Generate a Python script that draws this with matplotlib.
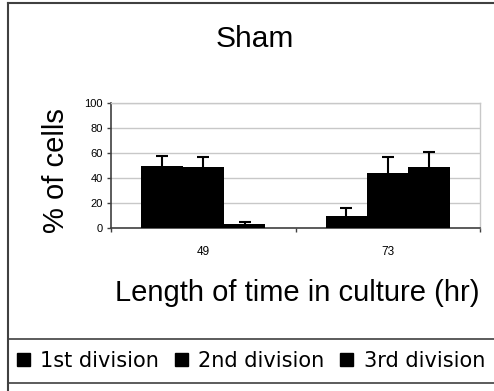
import numpy as np
import matplotlib
matplotlib.use("Agg")
import matplotlib.pyplot as plt
from matplotlib.patches import Patch
from matplotlib.lines import Line2D

# data
times = ['49', '73']
series = ['1st division', '2nd division', '3rd division']
values = [[50, 10], [49, 44], [3, 49]]
errors = [[8, 6], [7.5, 12.5], [1.5, 12]]

plt.rcParams['font.family'] = ['Liberation Sans', 'DejaVu Sans']

W, H = 494, 391
fig = plt.figure(figsize=(W / 100, H / 100), dpi=100)
ax = fig.add_axes([111 / W, 1 - 228 / H, 369 / W, 125 / H])

x = np.arange(len(times))
width = 0.224
for i, (vals, errs) in enumerate(zip(values, errors)):
    pos = x + (i - 1) * width
    ax.bar(pos, vals, width, color='black', zorder=3)
    eb = ax.errorbar(pos, vals, yerr=[np.zeros(len(errs)), errs], fmt='none',
                     ecolor='black', elinewidth=1.5, capsize=4.5, capthick=1.5,
                     zorder=3)
    # only the upper cap is drawn in the original
    eb[1][0].set_visible(False)

ax.set_xlim(-0.5, 1.5)
ax.set_ylim(0, 100)
ax.set_yticks(np.arange(0, 101, 20))
ax.tick_params(axis='y', labelsize=8, length=3, width=1, color='#404040', pad=3)
ax.set_xticks([-0.5, 0.5, 1.5])
ax.set_xticklabels([])
ax.set_xticks(x, minor=True)
ax.set_xticklabels(times, minor=True)
ax.tick_params(axis='x', which='major', length=3, width=1, color='#404040')
ax.tick_params(axis='x', which='minor', length=0, labelsize=8.5, pad=13)
ax.grid(axis='y', color='#c8c8c8', linewidth=1, zorder=0)
for s in ['left', 'bottom']:
    ax.spines[s].set_color('#404040')
    ax.spines[s].set_linewidth(1.2)
for s in ['top', 'right']:
    ax.spines[s].set_color('#c8c8c8')
    ax.spines[s].set_linewidth(1)

fig.text(255 / W, 1 - 47 / H, 'Sham', fontsize=21.5, ha='center', va='baseline')
fig.text(42 / W, 1 - 171 / H, '% of cells', fontsize=21, rotation=90,
         ha='left', va='center')
fig.text(297 / W, 1 - 301 / H, 'Length of time in culture (hr)', fontsize=21,
         ha='center', va='baseline')

handles = [Patch(facecolor='black', edgecolor='black') for _ in series]
fig.legend(handles, series, loc='center', bbox_to_anchor=(251 / W, 1 - 361 / H),
           ncol=3, frameon=False, prop={'family': 'DejaVu Sans', 'size': 15},
           handlelength=0.62, handleheight=0.62, handletextpad=0.5,
           columnspacing=0.75, borderpad=0, borderaxespad=0)

# outer frame lines
lc = '#404040'
fig.add_artist(Line2D([8 / W, 8 / W], [0, 1 - 3 / H], color=lc, lw=1.5))
fig.add_artist(Line2D([8 / W, 1], [1 - 3 / H, 1 - 3 / H], color=lc, lw=1.5))
fig.add_artist(Line2D([8 / W, 1], [1 - 339 / H, 1 - 339 / H], color=lc, lw=1.2))
fig.add_artist(Line2D([8 / W, 1], [1 - 383 / H, 1 - 383 / H], color=lc, lw=1.2))

fig.savefig('out.png', dpi=100)
